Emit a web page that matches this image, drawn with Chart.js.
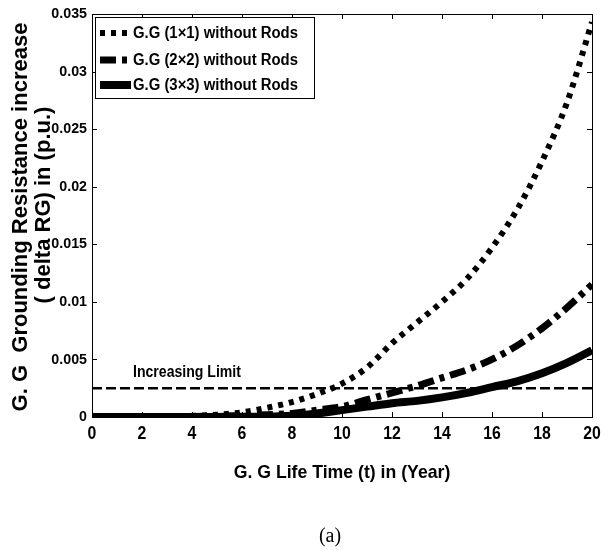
<!DOCTYPE html>
<html>
<head>
<meta charset="utf-8">
<script src="https://cdn.jsdelivr.net/npm/chart.js@4/dist/chart.umd.min.js"></script>
<style>
  html, body { margin: 0; background: #fff; }
  canvas { display: block; }
</style>
</head>
<body>
<canvas id="chart" width="613" height="550"></canvas>
<script>
// data
const years = [0, 1, 2, 3, 4, 5, 6, 7, 8, 9, 10, 11, 12, 13, 14, 15, 16, 17, 18, 19, 20]
const gg1x1 = [0, 0.00002, 0.00004, 0.00007, 0.0001, 0.0002, 0.0004, 0.0008, 0.0013, 0.002, 0.0029, 0.0043, 0.0064, 0.0082, 0.01, 0.012, 0.0147, 0.018, 0.0222, 0.0273, 0.0343]
const gg2x2 = [0, 0, 0.00002, 0.00003, 0.00005, 0.00008, 0.00012, 0.0002, 0.0003, 0.0006, 0.0009, 0.0015, 0.0021, 0.0027, 0.0034, 0.0041, 0.005, 0.0062, 0.0077, 0.0095, 0.0115]
const gg3x3 = [0, 0, 0, 0, 0, 0.00001, 0.00002, 0.00003, 0.0001, 0.0003, 0.0006, 0.0009, 0.0012, 0.0014, 0.0017, 0.0021, 0.0026, 0.0031, 0.0038, 0.0047, 0.0058]
const limitValue = 0.0025
const seriesNames = ["G.G (1\u00d71) without Rods", "G.G (2\u00d72) without Rods", "G.G (3\u00d73) without Rods"]
const xTickLabels = ["0", "2", "4", "6", "8", "10", "12", "14", "16", "18", "20"]
const yTickLabels = ["0", "0.005", "0.01", "0.015", "0.02", "0.025", "0.03", "0.035"]

const SANS = '"Liberation Sans", Arial, sans-serif'

const toPoints = (vals) => years.map((x, i) => ({ x: x, y: vals[i] }))

const styles = [
  { width: 6, dash: [5, 6] },
  { width: 7, dash: [16, 6, 5, 6] },
  { width: 8, dash: [] },
]

// text squeezed sideways, the figure uses a narrow face
function narrowText(ctx, text, x, y, font, sx, align) {
  ctx.save()
  ctx.font = font
  ctx.textAlign = align || "center"
  ctx.textBaseline = "middle"
  ctx.translate(x, y)
  ctx.scale(sx, 1)
  ctx.fillText(text, 0, 0)
  ctx.restore()
}

// box, inward ticks, tick labels, titles, legend
const decor = {
  id: "decor",
  afterDraw(chart) {
    const ctx = chart.ctx
    const a = chart.chartArea
    const xs = chart.scales.x
    const ys = chart.scales.y
    ctx.save()
    ctx.strokeStyle = "#000"
    ctx.fillStyle = "#000"
    ctx.lineWidth = 1
    ctx.setLineDash([])
    ctx.strokeRect(a.left + 0.5, a.top + 0.5, a.right - a.left, a.bottom - a.top)
    ctx.beginPath()
    xs.ticks.forEach((t) => {
      const px = Math.round(xs.getPixelForValue(t.value)) + 0.5
      ctx.moveTo(px, a.bottom); ctx.lineTo(px, a.bottom - 5)
      ctx.moveTo(px, a.top); ctx.lineTo(px, a.top + 5)
    })
    ys.ticks.forEach((t) => {
      const py = Math.round(ys.getPixelForValue(t.value)) + 0.5
      ctx.moveTo(a.left, py); ctx.lineTo(a.left + 5, py)
      ctx.moveTo(a.right, py); ctx.lineTo(a.right - 5, py)
    })
    ctx.stroke()

    // tick labels
    xs.ticks.forEach((t, i) => {
      narrowText(ctx, xTickLabels[i], xs.getPixelForValue(t.value), a.bottom + 17, "bold 18px " + SANS, 0.88)
    })
    ys.ticks.forEach((t, i) => {
      narrowText(ctx, yTickLabels[i], a.left - 5, ys.getPixelForValue(t.value), "bold 15px " + SANS, 0.95, "right")
    })

    // x title
    narrowText(ctx, "G. G Life Time (t) in (Year)", (a.left + a.right) / 2, 473, "bold 19px " + SANS, 0.93)
    // caption
    ctx.font = '20px "Liberation Serif", "Times New Roman", serif'
    ctx.textAlign = "center"
    ctx.textBaseline = "middle"
    ctx.fillText("(a)", 330, 537)
    // limit label
    narrowText(ctx, "Increasing Limit", 133, 373, "bold 16px " + SANS, 0.88, "left")

    // y title, two rotated lines
    ctx.save()
    ctx.translate(21, 217)
    ctx.rotate(-Math.PI / 2)
    ctx.font = "bold 22px " + SANS
    ctx.fillText("G. G  Grounding Resistance increase", 0, 0)
    ctx.restore()
    ctx.save()
    ctx.translate(44, 205)
    ctx.rotate(-Math.PI / 2)
    ctx.font = "bold 22px " + SANS
    ctx.fillText("( delta RG) in (p.u.)", 0, 0)
    ctx.restore()

    // legend
    ctx.fillStyle = "#fff"
    ctx.fillRect(95, 17, 219, 81)
    ctx.strokeRect(95.5, 17.5, 219, 81)
    const rows = [33, 60, 85]
    rows.forEach((ry, i) => {
      ctx.beginPath()
      ctx.lineWidth = styles[i].width
      ctx.setLineDash(styles[i].dash)
      ctx.moveTo(100, ry); ctx.lineTo(131, ry)
      ctx.stroke()
      ctx.setLineDash([])
      ctx.fillStyle = "#000"
      narrowText(ctx, seriesNames[i], 133, ry + 1, "bold 16px " + SANS, 0.93, "left")
    })
    ctx.restore()
  },
}

new Chart(document.getElementById("chart"), {
  type: "line",
  data: {
    datasets: [
      {
        label: seriesNames[0],
        data: toPoints(gg1x1),
        borderColor: "#000",
        borderWidth: styles[0].width,
        borderDash: styles[0].dash,
      },
      {
        label: seriesNames[1],
        data: toPoints(gg2x2),
        borderColor: "#000",
        borderWidth: styles[1].width,
        borderDash: styles[1].dash,
      },
      {
        label: seriesNames[2],
        data: toPoints(gg3x3),
        borderColor: "#000",
        borderWidth: styles[2].width,
      },
      {
        label: "Increasing Limit",
        data: years.map((x) => ({ x: x, y: limitValue })),
        borderColor: "#000",
        borderWidth: 2.5,
        borderDash: [10, 4],
      },
    ],
  },
  options: {
    responsive: false,
    animation: false,
    devicePixelRatio: 1,
    cubicInterpolationMode: "monotone",
    elements: {
      point: { radius: 0 },
      line: { borderCapStyle: "butt", fill: false },
    },
    layout: { padding: { top: 14, right: 21, left: 0, bottom: 0 } },
    plugins: {
      legend: { display: false },
      tooltip: { enabled: false },
    },
    scales: {
      x: {
        type: "linear",
        min: 0,
        max: 20,
        grid: { display: false },
        border: { display: false },
        ticks: { stepSize: 2, display: false },
        afterFit: (s) => { s.height = 133 },
      },
      y: {
        min: 0,
        max: 0.035,
        grid: { display: false },
        border: { display: false },
        ticks: { stepSize: 0.005, display: false },
        afterFit: (s) => { s.width = 92 },
      },
    },
  },
  plugins: [decor],
})
</script>
</body>
</html>
